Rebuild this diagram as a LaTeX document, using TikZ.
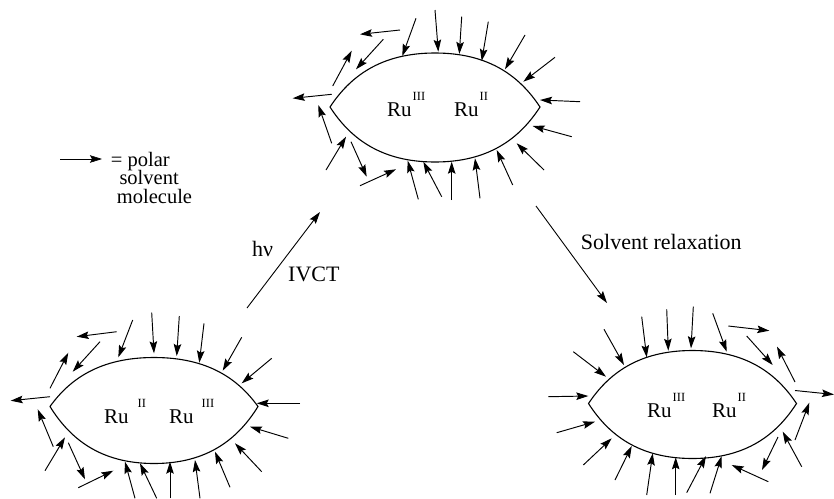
\documentclass[tikz,border=0pt]{standalone}
\usepackage{fontspec}
\setmainfont{Liberation Serif}
\newfontfamily\labelserif{Liberation Serif}
\usetikzlibrary{arrows.meta}

% oxidation-state label: Ru with a raised roman numeral
\newcommand\ruox[2]{Ru\hspace{#1}\raisebox{16pt}{\fontsize{12.5}{12.5}\selectfont #2}}

% lens-shaped cavity: centre (#1,#2), half width #3, upper/lower half heights #4/#5
\newcommand\drawlens[5]{%
  \begin{scope}[shift={(#1,#2)}]
    \draw[lens] (-#3,0)
      .. controls ({-0.81*#3},{-0.56*#4}) and ({-0.52*#3},-#4) .. (0,-#4)
      .. controls ({0.52*#3},-#4) and ({0.81*#3},{-0.56*#4}) .. (#3,0)
      .. controls ({0.81*#3},{0.56*#5}) and ({0.52*#3},#5) .. (0,#5)
      .. controls ({-0.52*#3},#5) and ({-0.81*#3},{0.56*#5}) .. (-#3,0) -- cycle;
  \end{scope}}

\tikzset{
  lens/.style={line width=1.1pt, line join=miter},
  sv/.style={line width=0.95pt, -{Stealth[length=12pt,width=7.5pt,inset=2pt]}},
  mainarrow/.style={line width=0.9pt, -{Stealth[length=12pt,width=7.5pt,inset=2pt]}},
  lbl/.style={inner sep=0pt, anchor=base west, font=\labelserif\fontsize{22}{22}\selectfont},
  rulbl/.style={inner sep=0pt, anchor=base west, font=\labelserif\fontsize{21}{21}\selectfont},
  keylbl/.style={inner sep=0pt, anchor=base west, font=\labelserif\fontsize{20.5}{20.5}\selectfont},
}

\begin{document}
\begin{tikzpicture}[x=1pt, y=-1pt]
\useasboundingbox (0,0) rectangle (834,498);

% ---------- cavities ----------
\drawlens{435}{107}{105}{54}{55}
\drawlens{154}{406.5}{104}{49}{57}
\drawlens{692.5}{403.5}{104}{53}{55}

% ---------- metal centres ----------
\node[rulbl] (top1) at (387,116) {\ruox{1pt}{III}};
\node[rulbl] (top2) at (454,116) {\ruox{1pt}{II}};
\node[rulbl] (bl1)  at (104,423) {\ruox{9pt}{II}};
\node[rulbl] (bl2)  at (169,423) {\ruox{8pt}{III}};
\node[rulbl] (br1)  at (647,417) {\ruox{1pt}{III}};
\node[rulbl] (br2)  at (712,417) {\ruox{1pt}{II}};

% ---------- solvent dipoles, upper cavity ----------
\foreach \ax/\ay/\bx/\by in {
  400/30/360/34.3, 383.3/39.3/356/69.3, 332.7/86/351.7/50.7,
  331.7/94.3/292.7/98.3, 331.7/143.3/318.3/105, 326/170/346/136.7,
  351/141.7/366.7/176.7, 360/185.7/396/169.3,
  418.3/199.3/407.7/160.7, 441.7/196.7/423.3/161.7, 451.7/200/451.7/161.7,
  480/198.3/475/158.3, 512.7/185/496.7/150, 544/170/516.7/143.3,
  571.7/136.7/532.7/126, 580/101.7/540/100,
  416/18.3/402.3/56, 435/10/438.3/51.7, 461.7/16.7/459.3/54,
  488.3/21.7/481.7/61, 525/35/505/69.3, 555/57.3/523.3/81.7}
  \draw[sv] (\ax,\ay) -- (\bx,\by);

% ---------- solvent dipoles, lower left cavity ----------
\foreach \ax/\ay/\bx/\by in {
  116.7/331.7/76.7/336.7, 100/341.7/72.7/371.7, 50/388.3/68.3/352.7,
  50/396.7/10.7/400.7, 53.3/446.7/37.7/409.3, 45/470.7/65/437.3,
  68.3/442.7/85/479.3, 78.3/487.7/113.3/470.7,
  135/498.3/125/461.7, 156.7/498.3/140/463.3, 170/498.3/170/461.7,
  200/498.3/195/460, 230/487.3/215/451.7, 261.7/471.7/235/443.3,
  288.3/438.3/250/426.7, 300/403.3/256.7/403.3,
  132.7/320/118.3/357.3, 151.7/312.7/154/353.3, 179.3/316/176.7/356,
  204/323.3/199.3/362.7, 241.7/337.3/222.7/370.7, 271.7/358.3/241.7/383.3}
  \draw[sv] (\ax,\ay) -- (\bx,\by);

% ---------- solvent dipoles, lower right cavity ----------
\foreach \ax/\ay/\bx/\by in {
  604/329.3/624/365, 641.7/316.7/646.7/357.3, 666.7/309.3/668.3/350.7,
  693.3/306.7/691/348.3, 712.7/313.3/726.7/351.7,
  728.3/326/769.3/330.7, 746.7/336/772.7/365, 795/382/777/346.7,
  795/390.5/834/394.5, 795/440/809.3/402.7, 801.7/466.7/782.7/431.7,
  778/437/762/470, 768.3/481.7/731.7/465,
  710/493.3/721.7/456, 686.7/492.7/706/456, 675.7/495/675.7/457.3,
  646.7/495/652.7/453.3, 615/480/631.7/446, 583.3/465/611.7/438.3,
  556.7/432.7/595/421.7, 548.3/396.7/588.3/396, 573.3/351.7/606/376.7}
  \draw[sv] (\ax,\ay) -- (\bx,\by);

% ---------- legend ----------
\coordinate (keyA) at (60,159);
\coordinate (keyB) at (102,159);
\draw[sv, line width=0.6pt] (keyA) -- (keyB);
\node[keylbl] (key1) at (110.7,166) {= polar};
\node[keylbl] (key2) at (119.3,184.5) {solvent};
\node[keylbl] (key3) at (116.7,203) {molecule};

% ---------- transitions ----------
\coordinate (ivctA) at (247,308);
\coordinate (ivctB) at (320,212);
\draw[mainarrow] (ivctA) -- (ivctB);
\node[lbl] (hnu) at (252,256.7) {hν};
\node[lbl] (ivct) at (288,281.7) {IVCT};

\coordinate (relA) at (536,206);
\coordinate (relB) at (607,303);
\draw[mainarrow] (relA) -- (relB);
\node[lbl] (relax) at (580.7,249.3) {Solvent relaxation};
\end{tikzpicture}
\end{document}
